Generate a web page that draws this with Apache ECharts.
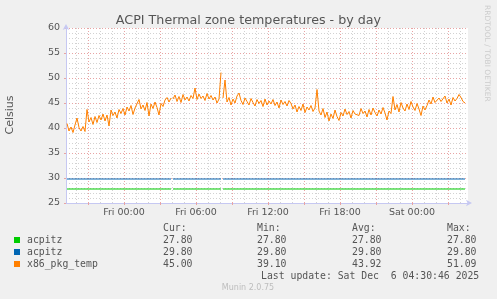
<!DOCTYPE html>
<html>
<head>
<meta charset="utf-8">
<script src="https://cdn.jsdelivr.net/npm/echarts@6/dist/echarts.min.js"></script>
<style>
  html, body { margin: 0; padding: 0; background: #f0f0f0; }
  #chart { width: 497px; height: 299px; }
</style>
</head>
<body>
<div id="chart"></div>
<script>
// all times are minutes relative to Fri 00:00
const AXIS_START = -290;
const AXIS_END = 1720;
const SAMPLE_START = -285;
const SAMPLE_STEP = 10;

// breaks in the data (no samples there)
const gapMinutes = [240, 490];
const segStart = [-285, 245, 495];
const segEnd = [235, 485, 1705];

const xTickMinutes = [0, 360, 720, 1080, 1440];
const xTickLabels = ['Fri 00:00', 'Fri 06:00', 'Fri 12:00', 'Fri 18:00', 'Sat 00:00'];

// acpitz sensors, one value per segment
const acpitzGreen = [27.8, 27.8, 27.8];
const acpitzBlue = [29.8, 29.8, 29.8];

// x86_pkg_temp, one sample every 10 minutes
const pkgTemp = [
  40.9, 39.4, 40.2, 39.1, 40.6, 42.0, 40.1, 39.4, 40.3, 39.3,
  43.7, 41.2, 42.1, 40.7, 42.3, 41.1, 42.5, 41.6, 42.8, 41.4,
  42.6, 40.4, 43.6, 42.5, 43.2, 42.0, 43.7,
  42.9, 43.9, 42.6, 44.2, 43.4, 44.5, 42.7, 44.0, 43.6,
  45.7, 43.8, 44.6,
  43.5, 45.1, 42.4, 44.8, 43.9, 45.2, 44.1, 42.6, 44.9, 44.3,
  45.6, 46.1, 45.2, 46.0,
  45.8, 46.6, 45.3, 46.3, 45.1, 46.7, 45.6, 46.2, 45.4, 46.5,
  45.9, 48.0,
  45.7, 46.8, 45.9, 46.4, 45.5, 46.9, 45.8, 46.5, 45.6, 46.2, 45.0,
  45.8, 51.1,
  46.0, 49.6,
  45.2, 46.1, 44.6, 45.8, 45.0, 46.4, 47.0, 45.5, 44.7, 46.0,
  45.3, 44.6, 45.9, 45.1, 44.4, 45.7, 44.9, 45.5, 44.3, 45.8,
  44.6, 45.4, 44.8, 45.7, 44.5, 45.2, 44.0, 45.6, 44.7, 45.3, 44.4, 45.5, 44.9,
  43.8, 44.6, 43.2, 44.3, 43.5, 44.8, 43.1, 44.2, 43.6, 44.5, 43.3, 44.0,
  47.7,
  43.4, 42.6, 43.9, 42.1, 43.2, 41.4, 42.8, 41.9, 43.6, 42.3,
  41.5, 43.1, 42.4, 43.8, 42.7, 43.3, 42.0, 43.5, 42.8,
  43.2, 42.5, 43.9, 42.9, 43.4, 42.2, 43.7, 42.6, 44.0, 43.1,
  42.4, 43.6, 42.8, 44.1, 43.0, 41.6, 43.4,
  42.9, 46.3,
  43.6, 44.7, 43.2, 45.1, 44.0, 43.4, 44.8, 43.7, 45.3, 44.2,
  43.5, 44.9, 43.8, 42.5, 44.4, 43.6,
  44.5, 45.6, 44.8, 46.2, 45.1, 44.7, 46.0, 45.3, 44.9, 46.4,
  45.0, 45.8, 44.6, 46.1, 45.4, 45.9, 46.7,
  46.1, 45.3, 45.0
];

const legendHead = ['Cur:', 'Min:', 'Avg:', 'Max:'];
const legendNames = ['acpitz', 'acpitz', 'x86_pkg_temp'];
const legendColors = ['#00cc00', '#0066b3', '#ff8000'];
const legendCur = ['27.80', '29.80', '45.00'];
const legendMin = ['27.80', '29.80', '39.10'];
const legendAvg = ['27.80', '29.80', '43.92'];
const legendMax = ['27.80', '29.80', '51.09'];
const lastUpdate = 'Last update: Sat Dec  6 04:30:46 2025';

const SANS = '"DejaVu Sans", sans-serif';
const MONO = '"DejaVu Sans Mono", monospace';
const AXIS_COLOR = '#c6c8f2';
const MAJOR = '#e8a4a4';
const MINOR = '#d2d2d2';

function buildPkg() {
  const out = [];
  let prev = null;
  pkgTemp.forEach((v, i) => {
    const t = SAMPLE_START + i * SAMPLE_STEP;
    gapMinutes.forEach((g) => {
      if (prev !== null && g > prev && g < t) out.push([g, null]);
    });
    out.push([t, v]);
    prev = t;
  });
  return out;
}

function buildConst(values) {
  const out = [];
  values.forEach((v, i) => {
    out.push([segStart[i], v], [segEnd[i], v]);
    if (i < gapMinutes.length) out.push([gapMinutes[i], null]);
  });
  return out;
}

const cats = [];
for (let m = AXIS_START; m <= AXIS_END; m += 10) cats.push(m);

function legendGraphics() {
  const els = [];
  const cols = [163, 257, 352, 447];
  const rowY = [240, 252, 264];
  const txt = (x, y, text, extra) => Object.assign({
    type: 'text', x, y, silent: true,
    style: { text, fill: '#555', font: '9.8px ' + MONO, textVerticalAlign: 'middle', verticalAlign: 'middle' }
  }, extra || {});
  legendHead.forEach((h, i) => els.push(txt(cols[i], 228, h)));
  legendNames.forEach((name, r) => {
    els.push({
      type: 'rect', silent: true,
      shape: { x: 14, y: rowY[r] - 3, width: 6, height: 6 },
      style: { fill: legendColors[r] }
    });
    els.push(txt(27, rowY[r], name));
    els.push(txt(cols[0], rowY[r], legendCur[r]));
    els.push(txt(cols[1], rowY[r], legendMin[r]));
    els.push(txt(cols[2], rowY[r], legendAvg[r]));
    els.push(txt(cols[3], rowY[r], legendMax[r]));
  });
  els.push(txt(261, 276, lastUpdate));
  els.push({
    type: 'text', x: 248, y: 288, silent: true,
    style: { text: 'Munin 2.0.75', fill: '#bdbdbd', font: '8px ' + SANS, textAlign: 'center', align: 'center', textVerticalAlign: 'middle', verticalAlign: 'middle' }
  });
  els.push({
    type: 'text', x: 10, y: 115, rotation: Math.PI / 2, silent: true,
    style: { text: 'Celsius', fill: '#555', font: '11px ' + SANS, textAlign: 'center', align: 'center', textVerticalAlign: 'middle', verticalAlign: 'middle' }
  });
  els.push({
    type: 'text', x: 487, y: 5, rotation: -Math.PI / 2, silent: true,
    style: { text: 'RRDTOOL / TOBI OETIKER', fill: '#cccccc', font: '7.5px ' + SANS, textAlign: 'left', align: 'left', textVerticalAlign: 'middle', verticalAlign: 'middle' }
  });
  return els;
}

const chart = echarts.init(document.getElementById('chart'), null, { renderer: 'canvas' });

chart.setOption({
  backgroundColor: '#f0f0f0',
  animation: false,
  title: {
    text: 'ACPI Thermal zone temperatures - by day',
    left: 'center',
    top: 9,
    textStyle: { color: '#555', fontSize: 12.7, fontWeight: 'normal', fontFamily: SANS }
  },
  grid: {
    left: 66, right: 29, top: 28, bottom: 96,
    show: true, backgroundColor: '#ffffff', borderWidth: 0
  },
  xAxis: [
    {
      // hourly minor lines
      type: 'category', data: cats, boundaryGap: false, position: 'bottom',
      axisLine: { show: false }, axisTick: { show: false }, axisLabel: { show: false },
      splitLine: {
        show: true,
        interval: (i, v) => Number(v) % 60 === 0 && Number(v) % 180 !== 0,
        lineStyle: { color: MINOR, type: [1, 2], width: 1 }
      }
    },
    {
      // 3-hourly major lines + labels
      type: 'category', data: cats, boundaryGap: false, position: 'bottom', offset: 0,
      axisLine: {
        show: true, onZero: false, lineStyle: { color: AXIS_COLOR, width: 1 },
        symbol: ['none', 'arrow'], symbolSize: [5, 6], symbolOffset: [0, 4]
      },
      axisTick: {
        show: true, length: 2, inside: false,
        interval: (i, v) => Number(v) % 180 === 0,
        lineStyle: { color: MAJOR }
      },
      axisLabel: {
        color: '#555', fontSize: 9.5, fontFamily: SANS, margin: 5,
        interval: (i, v) => xTickMinutes.indexOf(Number(v)) >= 0,
        formatter: (v) => xTickLabels[xTickMinutes.indexOf(Number(v))] || ''
      },
      splitLine: {
        show: true,
        interval: (i, v) => Number(v) % 180 === 0,
        lineStyle: { color: MAJOR, type: [1, 2], width: 1 }
      }
    },
    {
      type: 'value', min: AXIS_START, max: AXIS_END, show: false, position: 'bottom'
    }
  ],
  yAxis: {
    type: 'value', min: 25, max: 60, interval: 5, position: 'left',
    axisLine: {
      show: true, onZero: false, lineStyle: { color: AXIS_COLOR, width: 1 },
      symbol: ['none', 'arrow'], symbolSize: [5, 6], symbolOffset: [0, 4]
    },
    axisTick: { show: true, length: 2, lineStyle: { color: MAJOR } },
    minorTick: { show: false, splitNumber: 5 },
    axisLabel: { color: '#555', fontSize: 9.5, fontFamily: SANS, margin: 6 },
    splitLine: { show: true, lineStyle: { color: MAJOR, type: [1, 2], width: 1 } },
    minorSplitLine: { show: true, lineStyle: { color: MINOR, type: [1, 2], width: 1 } }
  },
  series: [
    {
      name: 'acpitz', type: 'line', xAxisIndex: 2, data: buildConst(acpitzGreen),
      showSymbol: false, connectNulls: false,
      lineStyle: { color: '#00cc00', width: 1.2 }, itemStyle: { color: '#00cc00' }
    },
    {
      name: 'acpitz', type: 'line', xAxisIndex: 2, data: buildConst(acpitzBlue),
      showSymbol: false, connectNulls: false,
      lineStyle: { color: '#0066b3', width: 1.2 }, itemStyle: { color: '#0066b3' }
    },
    {
      name: 'x86_pkg_temp', type: 'line', xAxisIndex: 2, data: buildPkg(),
      showSymbol: false, connectNulls: false,
      lineStyle: { color: '#ff8000', width: 1 }, itemStyle: { color: '#ff8000' }
    }
  ],
  graphic: legendGraphics()
});
</script>
</body>
</html>
